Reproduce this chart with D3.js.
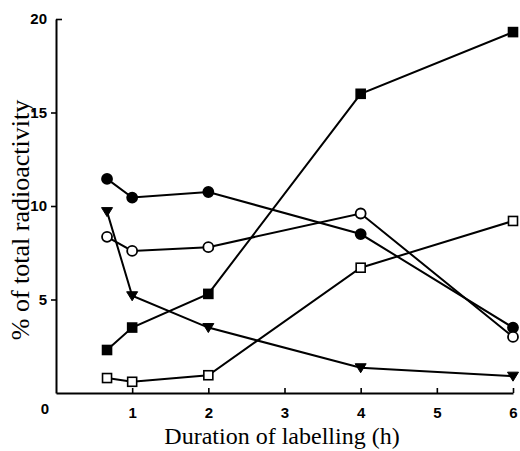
<!DOCTYPE html>
<html>
<head>
<meta charset="utf-8">
<script src="https://cdn.jsdelivr.net/npm/d3@7"></script>
<style>
body { margin: 0; background: #fff; }
svg { display: block; }
.tick text { font-family: "Liberation Sans", Arial, sans-serif; font-weight: bold; font-size: 15px; }
.lbl { font-family: "Liberation Serif", "Times New Roman", serif; font-size: 24px; }
</style>
</head>
<body>
<script>
// durations of labelling (h)
var hours = [0.67, 1, 2, 4, 6];

// % of total radioactivity per fraction
var filledCircle = [11.45, 10.45, 10.75, 8.5, 3.5];
var openCircle   = [8.35, 7.6, 7.8, 9.6, 3.0];
var filledTri    = [9.7, 5.2, 3.5, 1.35, 0.9];
var filledSquare = [2.3, 3.5, 5.3, 16.0, 19.3];
var openSquare   = [0.8, 0.6, 0.95, 6.7, 9.2];

var xTicks = [1, 2, 3, 4, 5, 6];
var yTicks = [5, 10, 15, 20];

var width = 520, height = 451;

var svg = d3.select("body").append("svg")
    .attr("width", width)
    .attr("height", height);

var x = d3.scaleLinear().domain([0, 6]).range([56, 513]);
var y = d3.scaleLinear().domain([0, 20]).range([393, 19]);

// axes
var xAxis = svg.append("g")
    .attr("transform", "translate(0," + y(0) + ")")
    .call(d3.axisBottom(x).tickValues(xTicks).tickFormat(d3.format("d"))
        .tickSizeInner(-5).tickSizeOuter(0).tickPadding(14));

var yAxis = svg.append("g")
    .attr("transform", "translate(" + x(0) + ",0)")
    .call(d3.axisLeft(y).tickValues(yTicks).tickFormat(d3.format("d"))
        .tickSize(5).tickSizeOuter(0).tickPadding(4));

svg.selectAll(".domain").attr("stroke", "#000").attr("stroke-width", 2);
svg.selectAll(".tick line").attr("stroke", "#000").attr("stroke-width", 1.6);

// top tick of y axis points inward
yAxis.selectAll(".tick").filter(function(d) { return d == 20; })
    .select("line").attr("x2", 6);

// zero at the corner
svg.append("text")
    .attr("x", x(0) - 11)
    .attr("y", y(0) + 21)
    .attr("text-anchor", "middle")
    .style("font-family", "'Liberation Sans', Arial, sans-serif")
    .style("font-weight", "bold")
    .style("font-size", "15px")
    .text("0");

svg.append("text")
    .attr("class", "lbl")
    .attr("x", 282)
    .attr("y", 444)
    .attr("text-anchor", "middle")
    .text("Duration of labelling (h)");

svg.append("text")
    .attr("class", "lbl")
    .attr("transform", "translate(29,220) rotate(-90)")
    .attr("text-anchor", "middle")
    .style("font-size", "26px")
    .text("% of total radioactivity");

var line = d3.line()
    .x(function(d) { return x(d[0]); })
    .y(function(d) { return y(d[1]); });

var series = [
    {vals: filledCircle, shape: "circle", fill: "#000"},
    {vals: openCircle, shape: "circle", fill: "#fff"},
    {vals: filledTri, shape: "tri", fill: "#000"},
    {vals: filledSquare, shape: "square", fill: "#000"},
    {vals: openSquare, shape: "square", fill: "#fff"}
];

series.forEach(function(s) {
    var pts = hours.map(function(h, i) { return [h, s.vals[i]]; });

    svg.append("path")
        .datum(pts)
        .attr("d", line)
        .attr("fill", "none")
        .attr("stroke", "#000")
        .attr("stroke-width", 2);

    var g = svg.append("g").selectAll("g")
        .data(pts)
        .enter()
        .append("g")
        .attr("transform", function(d) { return "translate(" + x(d[0]) + "," + y(d[1]) + ")"; });

    if (s.shape == "circle") {
        g.append("circle").attr("r", 5)
            .attr("fill", s.fill).attr("stroke", "#000").attr("stroke-width", 1.8);
    } else if (s.shape == "square") {
        g.append("rect").attr("x", -4.5).attr("y", -4.5).attr("width", 9).attr("height", 9)
            .attr("fill", s.fill).attr("stroke", "#000").attr("stroke-width", 1.6);
    } else {
        g.append("path").attr("d", "M-5.5,-4L5.5,-4L0,5Z")
            .attr("fill", s.fill).attr("stroke", "#000").attr("stroke-width", 1);
    }
});
</script>
</body>
</html>
